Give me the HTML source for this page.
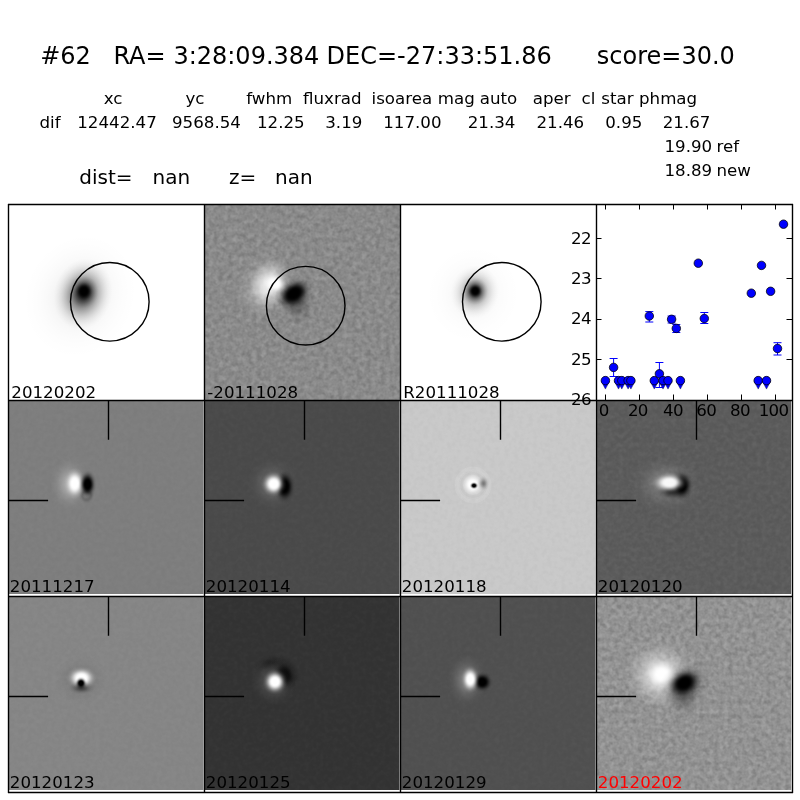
<!DOCTYPE html>
<html lang="en"><head><meta charset="utf-8"><title>#62 candidate</title>
<style>html,body{margin:0;padding:0;background:#fff;}svg{display:block;}text{font-family:"DejaVu Sans", "Liberation Sans", sans-serif;white-space:pre;fill:#000;}.t1{font-size:24px}.t2{font-size:16.67px}.t3{font-size:20px}.lab{font-size:16.67px}.tick{font-size:16.67px;letter-spacing:-0.7px}</style></head><body>
<svg width="800" height="800" viewBox="0 0 800 800">
<rect width="800" height="800" fill="#fff"/>
<defs>
<filter id="b1" x="-50%" y="-50%" width="200%" height="200%"><feGaussianBlur stdDeviation="1.2"/></filter>
<filter id="b2" x="-50%" y="-50%" width="200%" height="200%"><feGaussianBlur stdDeviation="2.2"/></filter>
<filter id="b3" x="-50%" y="-50%" width="200%" height="200%"><feGaussianBlur stdDeviation="3.5"/></filter>
<filter id="b6" x="-50%" y="-50%" width="200%" height="200%"><feGaussianBlur stdDeviation="6"/></filter>
<filter id="b10" x="-50%" y="-50%" width="200%" height="200%"><feGaussianBlur stdDeviation="10"/></filter>
<filter id="noise" x="0" y="0" width="100%" height="100%"><feTurbulence type="fractalNoise" baseFrequency="0.21" numOctaves="2" seed="3" result="n"/><feColorMatrix in="n" type="matrix" values="0 0 0 0 0  0 0 0 0 0  0 0 0 0 0  1.6 0 0 0 -0.55"/></filter>
<filter id="noisew" x="0" y="0" width="100%" height="100%"><feTurbulence type="fractalNoise" baseFrequency="0.21" numOctaves="2" seed="11" result="n"/><feColorMatrix in="n" type="matrix" values="0 0 0 0 1  0 0 0 0 1  0 0 0 0 1  1.6 0 0 0 -0.55"/></filter>
<radialGradient id="kg"><stop offset="0.000" stop-color="#000" stop-opacity="1.000"/><stop offset="0.083" stop-color="#000" stop-opacity="0.976"/><stop offset="0.167" stop-color="#000" stop-opacity="0.907"/><stop offset="0.250" stop-color="#000" stop-opacity="0.802"/><stop offset="0.333" stop-color="#000" stop-opacity="0.675"/><stop offset="0.417" stop-color="#000" stop-opacity="0.539"/><stop offset="0.500" stop-color="#000" stop-opacity="0.408"/><stop offset="0.583" stop-color="#000" stop-opacity="0.291"/><stop offset="0.667" stop-color="#000" stop-opacity="0.194"/><stop offset="0.750" stop-color="#000" stop-opacity="0.118"/><stop offset="0.833" stop-color="#000" stop-opacity="0.063"/><stop offset="0.917" stop-color="#000" stop-opacity="0.025"/><stop offset="1.000" stop-color="#000" stop-opacity="0.000"/></radialGradient>
<radialGradient id="kc"><stop offset="0.000" stop-color="#000" stop-opacity="1.000"/><stop offset="0.083" stop-color="#000" stop-opacity="1.000"/><stop offset="0.167" stop-color="#000" stop-opacity="1.000"/><stop offset="0.250" stop-color="#000" stop-opacity="1.000"/><stop offset="0.333" stop-color="#000" stop-opacity="0.951"/><stop offset="0.417" stop-color="#000" stop-opacity="0.817"/><stop offset="0.500" stop-color="#000" stop-opacity="0.634"/><stop offset="0.583" stop-color="#000" stop-opacity="0.444"/><stop offset="0.667" stop-color="#000" stop-opacity="0.278"/><stop offset="0.750" stop-color="#000" stop-opacity="0.154"/><stop offset="0.833" stop-color="#000" stop-opacity="0.072"/><stop offset="0.917" stop-color="#000" stop-opacity="0.025"/><stop offset="1.000" stop-color="#000" stop-opacity="0.000"/></radialGradient>
<radialGradient id="kh"><stop offset="0.000" stop-color="#000" stop-opacity="1.000"/><stop offset="0.083" stop-color="#000" stop-opacity="0.917"/><stop offset="0.167" stop-color="#000" stop-opacity="0.729"/><stop offset="0.250" stop-color="#000" stop-opacity="0.536"/><stop offset="0.333" stop-color="#000" stop-opacity="0.381"/><stop offset="0.417" stop-color="#000" stop-opacity="0.268"/><stop offset="0.500" stop-color="#000" stop-opacity="0.187"/><stop offset="0.583" stop-color="#000" stop-opacity="0.130"/><stop offset="0.667" stop-color="#000" stop-opacity="0.088"/><stop offset="0.750" stop-color="#000" stop-opacity="0.056"/><stop offset="0.833" stop-color="#000" stop-opacity="0.033"/><stop offset="0.917" stop-color="#000" stop-opacity="0.014"/><stop offset="1.000" stop-color="#000" stop-opacity="0.000"/></radialGradient>
<radialGradient id="wg"><stop offset="0.000" stop-color="#fff" stop-opacity="1.000"/><stop offset="0.083" stop-color="#fff" stop-opacity="0.976"/><stop offset="0.167" stop-color="#fff" stop-opacity="0.907"/><stop offset="0.250" stop-color="#fff" stop-opacity="0.802"/><stop offset="0.333" stop-color="#fff" stop-opacity="0.675"/><stop offset="0.417" stop-color="#fff" stop-opacity="0.539"/><stop offset="0.500" stop-color="#fff" stop-opacity="0.408"/><stop offset="0.583" stop-color="#fff" stop-opacity="0.291"/><stop offset="0.667" stop-color="#fff" stop-opacity="0.194"/><stop offset="0.750" stop-color="#fff" stop-opacity="0.118"/><stop offset="0.833" stop-color="#fff" stop-opacity="0.063"/><stop offset="0.917" stop-color="#fff" stop-opacity="0.025"/><stop offset="1.000" stop-color="#fff" stop-opacity="0.000"/></radialGradient>
<radialGradient id="wc"><stop offset="0.000" stop-color="#fff" stop-opacity="1.000"/><stop offset="0.083" stop-color="#fff" stop-opacity="1.000"/><stop offset="0.167" stop-color="#fff" stop-opacity="1.000"/><stop offset="0.250" stop-color="#fff" stop-opacity="1.000"/><stop offset="0.333" stop-color="#fff" stop-opacity="0.951"/><stop offset="0.417" stop-color="#fff" stop-opacity="0.817"/><stop offset="0.500" stop-color="#fff" stop-opacity="0.634"/><stop offset="0.583" stop-color="#fff" stop-opacity="0.444"/><stop offset="0.667" stop-color="#fff" stop-opacity="0.278"/><stop offset="0.750" stop-color="#fff" stop-opacity="0.154"/><stop offset="0.833" stop-color="#fff" stop-opacity="0.072"/><stop offset="0.917" stop-color="#fff" stop-opacity="0.025"/><stop offset="1.000" stop-color="#fff" stop-opacity="0.000"/></radialGradient>
<radialGradient id="wh"><stop offset="0.000" stop-color="#fff" stop-opacity="1.000"/><stop offset="0.083" stop-color="#fff" stop-opacity="0.917"/><stop offset="0.167" stop-color="#fff" stop-opacity="0.729"/><stop offset="0.250" stop-color="#fff" stop-opacity="0.536"/><stop offset="0.333" stop-color="#fff" stop-opacity="0.381"/><stop offset="0.417" stop-color="#fff" stop-opacity="0.268"/><stop offset="0.500" stop-color="#fff" stop-opacity="0.187"/><stop offset="0.583" stop-color="#fff" stop-opacity="0.130"/><stop offset="0.667" stop-color="#fff" stop-opacity="0.088"/><stop offset="0.750" stop-color="#fff" stop-opacity="0.056"/><stop offset="0.833" stop-color="#fff" stop-opacity="0.033"/><stop offset="0.917" stop-color="#fff" stop-opacity="0.014"/><stop offset="1.000" stop-color="#fff" stop-opacity="0.000"/></radialGradient>
<clipPath id="cp00"><rect x="8" y="204" width="196" height="196"/></clipPath>
<clipPath id="cp01"><rect x="204" y="204" width="196" height="196"/></clipPath>
<clipPath id="cp02"><rect x="400" y="204" width="196" height="196"/></clipPath>
<clipPath id="cp03"><rect x="596" y="204" width="196" height="196"/></clipPath>
<clipPath id="cp10"><rect x="8" y="400" width="196" height="196"/></clipPath>
<clipPath id="cp11"><rect x="204" y="400" width="196" height="196"/></clipPath>
<clipPath id="cp12"><rect x="400" y="400" width="196" height="196"/></clipPath>
<clipPath id="cp13"><rect x="596" y="400" width="196" height="196"/></clipPath>
<clipPath id="cp20"><rect x="8" y="596" width="196" height="196"/></clipPath>
<clipPath id="cp21"><rect x="204" y="596" width="196" height="196"/></clipPath>
<clipPath id="cp22"><rect x="400" y="596" width="196" height="196"/></clipPath>
<clipPath id="cp23"><rect x="596" y="596" width="196" height="196"/></clipPath>
</defs>
<text x="40.20" y="63.60" class="t1">#62</text>
<text x="113.40" y="63.60" class="t1">RA=</text>
<text x="173.40" y="63.60" class="t1">3:28:09.384</text>
<text x="326.60" y="63.60" class="t1">DEC=-27:33:51.86</text>
<text x="596.85" y="63.60" class="t1">score=30.0</text>
<text x="103.75" y="103.60" class="t2">xc</text>
<text x="185.50" y="103.60" class="t2">yc</text>
<text x="246.25" y="103.60" class="t2">fwhm</text>
<text x="303.00" y="103.60" class="t2">fluxrad</text>
<text x="371.50" y="103.60" class="t2">isoarea</text>
<text x="437.75" y="103.60" class="t2">mag</text>
<text x="479.75" y="103.60" class="t2">auto</text>
<text x="532.75" y="103.60" class="t2">aper</text>
<text x="581.50" y="103.60" class="t2">cl</text>
<text x="601.25" y="103.60" class="t2">star</text>
<text x="639.00" y="103.60" class="t2">phmag</text>
<text x="39.50" y="127.60" class="t2">dif</text>
<text x="77.25" y="127.60" class="t2">12442.47</text>
<text x="172.00" y="127.60" class="t2">9568.54</text>
<text x="257.00" y="127.60" class="t2">12.25</text>
<text x="325.25" y="127.60" class="t2">3.19</text>
<text x="383.25" y="127.60" class="t2">117.00</text>
<text x="467.75" y="127.60" class="t2">21.34</text>
<text x="536.50" y="127.60" class="t2">21.46</text>
<text x="605.25" y="127.60" class="t2">0.95</text>
<text x="662.75" y="127.60" class="t2">21.67</text>
<text x="664.50" y="152.00" class="t2">19.90</text>
<text x="716.50" y="152.00" class="t2">ref</text>
<text x="664.50" y="176.00" class="t2">18.89</text>
<text x="716.50" y="176.00" class="t2">new</text>
<text x="79.30" y="184.40" class="t3">dist=</text>
<text x="152.50" y="184.40" class="t3">nan</text>
<text x="229.00" y="184.40" class="t3">z=</text>
<text x="275.00" y="184.40" class="t3">nan</text>
<g clip-path="url(#cp00)">
<rect x="8" y="204" width="196" height="196" fill="#fff"/>
<ellipse cx="80.0" cy="296.0" rx="56.0" ry="64.0" fill="url(#kh)" opacity="0.17" transform="rotate(25 80.0 296.0)"/>
<ellipse cx="83.0" cy="294.0" rx="29.0" ry="36.0" fill="url(#kg)" opacity="0.62" transform="rotate(15 83.0 294.0)"/>
<ellipse cx="84.0" cy="292.0" rx="14.5" ry="16.5" fill="url(#kg)" opacity="1" transform="rotate(10 84.0 292.0)"/>
<ellipse cx="84.0" cy="291.0" rx="9.0" ry="9.5" fill="url(#kc)" opacity="1"/>
<circle cx="109.8" cy="301.8" r="39.3" fill="none" stroke="#000" stroke-width="1.39"/>
</g>
<text x="11.30" y="397.80" class="lab" fill="#000" style="fill:#000">20120202</text>
<g clip-path="url(#cp01)">
<rect x="204" y="204" width="196" height="196" fill="#8b8b8b"/>
<rect x="204" y="204" width="196" height="196" filter="url(#noise)" opacity="0.17"/>
<rect x="204" y="204" width="196" height="196" filter="url(#noisew)" opacity="0.17"/>
<ellipse cx="266.0" cy="286.0" rx="28.0" ry="36.0" fill="url(#wg)" opacity="0.6" transform="rotate(20 266.0 286.0)"/>
<ellipse cx="270.0" cy="284.0" rx="21.0" ry="26.0" fill="url(#wg)" opacity="0.68" transform="rotate(20 270.0 284.0)"/>
<ellipse cx="275.0" cy="283.5" rx="12.5" ry="10.5" fill="url(#wc)" opacity="1" transform="rotate(20 275.0 283.5)"/>
<ellipse cx="297.0" cy="303.0" rx="18.0" ry="24.0" fill="url(#kg)" opacity="0.32" transform="rotate(-20 297.0 303.0)"/>
<ellipse cx="294.0" cy="294.0" rx="21.0" ry="16.0" fill="url(#kg)" opacity="1" transform="rotate(-35 294.0 294.0)"/>
<ellipse cx="294.0" cy="293.5" rx="17.0" ry="11.5" fill="url(#kc)" opacity="1" transform="rotate(-35 294.0 293.5)"/>
<circle cx="305.7" cy="305.7" r="39.3" fill="none" stroke="#000" stroke-width="1.39"/>
</g>
<text x="207.30" y="397.80" class="lab" fill="#000" style="fill:#000">-20111028</text>
<g clip-path="url(#cp02)">
<rect x="400" y="204" width="196" height="196" fill="#fff"/>
<ellipse cx="473.0" cy="294.0" rx="48.0" ry="50.0" fill="url(#kh)" opacity="0.1" transform="rotate(20 473.0 294.0)"/>
<ellipse cx="475.0" cy="292.0" rx="24.0" ry="27.0" fill="url(#kg)" opacity="0.42" transform="rotate(15 475.0 292.0)"/>
<ellipse cx="475.2" cy="291.2" rx="13.0" ry="14.0" fill="url(#kg)" opacity="0.95"/>
<ellipse cx="475.2" cy="291.0" rx="7.5" ry="7.5" fill="url(#kc)" opacity="1"/>
<circle cx="501.8" cy="301.8" r="39.3" fill="none" stroke="#000" stroke-width="1.39"/>
</g>
<text x="403.30" y="397.80" class="lab" fill="#000" style="fill:#000">R20111028</text>
<g clip-path="url(#cp10)">
<rect x="8" y="400" width="196" height="196" fill="#7e7e7e"/>
<rect x="8" y="400" width="196" height="196" filter="url(#noise)" opacity="0.025"/>
<rect x="8" y="400" width="196" height="196" filter="url(#noisew)" opacity="0.025"/>
<ellipse cx="70.0" cy="484.0" rx="20.0" ry="26.7" fill="url(#wg)" opacity="0.4"/>
<circle cx="86.6" cy="495.5" r="4.5" fill="none" stroke="#000" stroke-width="2.5" opacity="0.22" filter="url(#b1)"/>
<ellipse cx="74.8" cy="483.5" rx="10.7" ry="16.0" fill="url(#wc)" opacity="1"/>
<ellipse cx="87.6" cy="484.3" rx="9.3" ry="15.1" fill="url(#kc)" opacity="1"/>
<rect x="8" y="594" width="196" height="2" fill="#fff"/>
<rect x="203" y="400" width="1" height="196" fill="#fff" opacity="0.5"/>
</g>
<path d="M108.5 401 V439.8 M9 500.5 H48.1" stroke="#000" stroke-width="1.39" fill="none"/>
<text x="9.80" y="592.00" class="lab" fill="#000" style="fill:#000">20111217</text>
<g clip-path="url(#cp11)">
<rect x="204" y="400" width="196" height="196" fill="#4a4a4a"/>
<rect x="204" y="400" width="196" height="196" filter="url(#noise)" opacity="0.025"/>
<rect x="204" y="400" width="196" height="196" filter="url(#noisew)" opacity="0.025"/>
<ellipse cx="273.0" cy="484.0" rx="26.7" ry="26.7" fill="url(#wg)" opacity="0.2"/>
<ellipse cx="284.5" cy="486.5" rx="11.6" ry="17.8" fill="url(#kc)" opacity="1"/>
<ellipse cx="273.8" cy="484.0" rx="13.0" ry="13.0" fill="url(#wc)" opacity="1"/>
<rect x="204" y="594" width="196" height="2" fill="#fff"/>
<rect x="399" y="400" width="1" height="196" fill="#fff" opacity="0.5"/>
</g>
<path d="M304.5 401 V439.8 M205 500.5 H244.1" stroke="#000" stroke-width="1.39" fill="none"/>
<text x="205.80" y="592.00" class="lab" fill="#000" style="fill:#000">20120114</text>
<g clip-path="url(#cp12)">
<rect x="400" y="400" width="196" height="196" fill="#c9c9c9"/>
<rect x="400" y="400" width="196" height="196" filter="url(#noise)" opacity="0.025"/>
<rect x="400" y="400" width="196" height="196" filter="url(#noisew)" opacity="0.025"/>
<circle cx="473.0" cy="485.0" r="16.5" fill="none" stroke="#fff" stroke-width="4" opacity="0.10"/>
<circle cx="473.0" cy="485.0" r="11.5" fill="none" stroke="#000" stroke-width="3" opacity="0.03"/>
<ellipse cx="472.8" cy="484.5" rx="18.9" ry="18.9" fill="url(#wg)" opacity="0.5"/>
<ellipse cx="472.5" cy="484.5" rx="10.7" ry="11.2" fill="url(#wc)" opacity="1"/>
<ellipse cx="483.3" cy="483.5" rx="6.7" ry="7.8" fill="url(#kg)" opacity="0.4"/>
<ellipse cx="474.0" cy="485.6" rx="4.6" ry="3.9" fill="url(#kc)" opacity="1"/>
<rect x="400" y="594" width="196" height="2" fill="#fff"/>
<rect x="595" y="400" width="1" height="196" fill="#fff" opacity="0.5"/>
</g>
<path d="M500.5 401 V439.8 M401 500.5 H440.1" stroke="#000" stroke-width="1.39" fill="none"/>
<text x="401.80" y="592.00" class="lab" fill="#000" style="fill:#000">20120118</text>
<g clip-path="url(#cp13)">
<rect x="596" y="400" width="196" height="196" fill="#5b5b5b"/>
<rect x="596" y="400" width="196" height="196" filter="url(#noise)" opacity="0.06"/>
<rect x="596" y="400" width="196" height="196" filter="url(#noisew)" opacity="0.06"/>
<ellipse cx="666.0" cy="484.0" rx="35.6" ry="28.9" fill="url(#wg)" opacity="0.25"/>
<ellipse cx="681.7" cy="485.3" rx="12.5" ry="16.0" fill="url(#kc)" opacity="1"/>
<ellipse cx="672.0" cy="492.0" rx="17.8" ry="8.9" fill="url(#kg)" opacity="0.6"/>
<ellipse cx="669.5" cy="482.6" rx="18.7" ry="10.7" fill="url(#wc)" opacity="0.95"/>
<rect x="596" y="594" width="196" height="2" fill="#fff"/>
<rect x="791" y="400" width="1" height="196" fill="#fff" opacity="0.85"/>
</g>
<path d="M696.5 401 V439.8 M597 500.5 H636.1" stroke="#000" stroke-width="1.39" fill="none"/>
<text x="597.80" y="592.00" class="lab" fill="#000" style="fill:#000">20120120</text>
<g clip-path="url(#cp20)">
<rect x="8" y="596" width="196" height="196" fill="#868686"/>
<rect x="8" y="596" width="196" height="196" filter="url(#noise)" opacity="0.025"/>
<rect x="8" y="596" width="196" height="196" filter="url(#noisew)" opacity="0.025"/>
<ellipse cx="81.0" cy="680.0" rx="28.9" ry="26.7" fill="url(#kg)" opacity="0.12"/>
<ellipse cx="81.5" cy="678.0" rx="15.7" ry="12.1" fill="url(#wc)" opacity="1"/>
<ellipse cx="81.5" cy="688.0" rx="13.3" ry="6.7" fill="url(#kg)" opacity="0.5"/>
<ellipse cx="81.0" cy="683.2" rx="6.4" ry="6.8" fill="url(#kc)" opacity="1"/>
<rect x="8" y="790" width="196" height="2" fill="#fff"/>
<rect x="203" y="596" width="1" height="196" fill="#fff" opacity="0.5"/>
</g>
<path d="M108.5 597 V635.8 M9 696.5 H48.1" stroke="#000" stroke-width="1.39" fill="none"/>
<text x="9.80" y="788.00" class="lab" fill="#000" style="fill:#000">20120123</text>
<g clip-path="url(#cp21)">
<rect x="204" y="596" width="196" height="196" fill="#333333"/>
<rect x="204" y="596" width="196" height="196" filter="url(#noise)" opacity="0.025"/>
<rect x="204" y="596" width="196" height="196" filter="url(#noisew)" opacity="0.025"/>
<ellipse cx="270.0" cy="663.0" rx="17.8" ry="8.9" fill="url(#kg)" opacity="0.35" transform="rotate(-15 270.0 663.0)"/>
<ellipse cx="285.0" cy="675.0" rx="15.6" ry="20.0" fill="url(#kg)" opacity="0.9" transform="rotate(-20 285.0 675.0)"/>
<ellipse cx="284.5" cy="675.5" rx="8.9" ry="12.5" fill="url(#kc)" opacity="0.85" transform="rotate(-20 284.5 675.5)"/>
<ellipse cx="274.0" cy="682.0" rx="24.4" ry="24.4" fill="url(#wg)" opacity="0.2"/>
<ellipse cx="275.0" cy="681.7" rx="12.5" ry="13.0" fill="url(#wc)" opacity="1"/>
<rect x="204" y="790" width="196" height="2" fill="#fff"/>
<rect x="399" y="596" width="1" height="196" fill="#fff" opacity="0.5"/>
</g>
<path d="M304.5 597 V635.8 M205 696.5 H244.1" stroke="#000" stroke-width="1.39" fill="none"/>
<text x="205.80" y="788.00" class="lab" fill="#000" style="fill:#000">20120125</text>
<g clip-path="url(#cp22)">
<rect x="400" y="596" width="196" height="196" fill="#505050"/>
<rect x="400" y="596" width="196" height="196" filter="url(#noise)" opacity="0.025"/>
<rect x="400" y="596" width="196" height="196" filter="url(#noisew)" opacity="0.025"/>
<ellipse cx="467.0" cy="680.0" rx="20.0" ry="26.7" fill="url(#wg)" opacity="0.3"/>
<ellipse cx="482.3" cy="682.0" rx="11.0" ry="11.0" fill="url(#kc)" opacity="1"/>
<ellipse cx="470.3" cy="679.3" rx="9.6" ry="14.2" fill="url(#wc)" opacity="1"/>
<rect x="400" y="790" width="196" height="2" fill="#fff"/>
<rect x="595" y="596" width="1" height="196" fill="#fff" opacity="0.5"/>
</g>
<path d="M500.5 597 V635.8 M401 696.5 H440.1" stroke="#000" stroke-width="1.39" fill="none"/>
<text x="401.80" y="788.00" class="lab" fill="#000" style="fill:#000">20120129</text>
<g clip-path="url(#cp23)">
<rect x="596" y="596" width="196" height="196" fill="#949494"/>
<rect x="596" y="596" width="196" height="196" filter="url(#noise)" opacity="0.19"/>
<rect x="596" y="596" width="196" height="196" filter="url(#noisew)" opacity="0.19"/>
<ellipse cx="660.0" cy="675.0" rx="37.8" ry="37.8" fill="url(#wg)" opacity="0.8"/>
<ellipse cx="662.0" cy="674.4" rx="16.9" ry="15.1" fill="url(#wc)" opacity="1"/>
<ellipse cx="683.0" cy="696.0" rx="20.0" ry="24.4" fill="url(#kg)" opacity="0.3" transform="rotate(-15 683.0 696.0)"/>
<ellipse cx="684.5" cy="684.0" rx="26.7" ry="21.1" fill="url(#kg)" opacity="0.6" transform="rotate(-30 684.5 684.0)"/>
<ellipse cx="684.3" cy="683.0" rx="18.7" ry="14.2" fill="url(#kc)" opacity="1" transform="rotate(-30 684.3 683.0)"/>
<rect x="596" y="790" width="196" height="2" fill="#fff"/>
<rect x="791" y="596" width="1" height="196" fill="#fff" opacity="0.85"/>
</g>
<path d="M696.5 597 V635.8 M597 696.5 H636.1" stroke="#000" stroke-width="1.39" fill="none"/>
<text x="597.80" y="788.00" class="lab" fill="#f00" style="fill:#f00">20120202</text>
<rect x="596" y="204" width="196" height="196" fill="#fff"/>
<g clip-path="url(#cp03)">
<path d="M613.6 358.5 V376.5 M609.6 358.5 h8 M609.6 376.5 h8" stroke="#00f" stroke-width="1" fill="none"/>
<path d="M649.3 311.6 V322.0 M645.3 311.6 h8 M645.3 322.0 h8" stroke="#00f" stroke-width="1" fill="none"/>
<path d="M659.4 362.5 V387.5 M655.4 362.5 h8 M655.4 387.5 h8" stroke="#00f" stroke-width="1" fill="none"/>
<path d="M671.6 316.0 V323.0 M667.6 316.0 h8 M667.6 323.0 h8" stroke="#00f" stroke-width="1" fill="none"/>
<path d="M676.3 324.5 V332.5 M672.3 324.5 h8 M672.3 332.5 h8" stroke="#00f" stroke-width="1" fill="none"/>
<path d="M704.3 312.5 V323.5 M700.3 312.5 h8 M700.3 323.5 h8" stroke="#00f" stroke-width="1" fill="none"/>
<path d="M777.5 342.7 V355.0 M773.5 342.7 h8 M773.5 355.0 h8" stroke="#00f" stroke-width="1" fill="none"/>
<path d="M601.4 381.6 L609.4 381.6 L605.4 389.1 Z" fill="#00f" stroke="#003" stroke-width="0.4"/>
<path d="M614.5 381.6 L622.5 381.6 L618.5 389.1 Z" fill="#00f" stroke="#003" stroke-width="0.4"/>
<path d="M617.8 381.6 L625.8 381.6 L621.8 389.1 Z" fill="#00f" stroke="#003" stroke-width="0.4"/>
<path d="M624.1 381.6 L632.1 381.6 L628.1 389.1 Z" fill="#00f" stroke="#003" stroke-width="0.4"/>
<path d="M626.9 381.6 L634.9 381.6 L630.9 389.1 Z" fill="#00f" stroke="#003" stroke-width="0.4"/>
<path d="M650.3 381.6 L658.3 381.6 L654.3 389.1 Z" fill="#00f" stroke="#003" stroke-width="0.4"/>
<path d="M659.0 381.6 L667.0 381.6 L663.0 389.1 Z" fill="#00f" stroke="#003" stroke-width="0.4"/>
<path d="M664.0 381.6 L672.0 381.6 L668.0 389.1 Z" fill="#00f" stroke="#003" stroke-width="0.4"/>
<path d="M676.4 381.6 L684.4 381.6 L680.4 389.1 Z" fill="#00f" stroke="#003" stroke-width="0.4"/>
<path d="M754.2 381.6 L762.2 381.6 L758.2 389.1 Z" fill="#00f" stroke="#003" stroke-width="0.4"/>
<path d="M762.5 381.6 L770.5 381.6 L766.5 389.1 Z" fill="#00f" stroke="#003" stroke-width="0.4"/>
<circle cx="605.4" cy="380.6" r="4.25" fill="#00f" stroke="#000" stroke-width="0.75"/>
<circle cx="613.6" cy="367.4" r="4.25" fill="#00f" stroke="#000" stroke-width="0.75"/>
<circle cx="618.5" cy="380.6" r="4.25" fill="#00f" stroke="#000" stroke-width="0.75"/>
<circle cx="621.8" cy="380.6" r="4.25" fill="#00f" stroke="#000" stroke-width="0.75"/>
<circle cx="628.1" cy="380.6" r="4.25" fill="#00f" stroke="#000" stroke-width="0.75"/>
<circle cx="630.9" cy="380.6" r="4.25" fill="#00f" stroke="#000" stroke-width="0.75"/>
<circle cx="649.3" cy="316.0" r="4.25" fill="#00f" stroke="#000" stroke-width="0.75"/>
<circle cx="654.3" cy="380.6" r="4.25" fill="#00f" stroke="#000" stroke-width="0.75"/>
<circle cx="659.4" cy="373.8" r="4.25" fill="#00f" stroke="#000" stroke-width="0.75"/>
<circle cx="663.0" cy="380.6" r="4.25" fill="#00f" stroke="#000" stroke-width="0.75"/>
<circle cx="668.0" cy="380.6" r="4.25" fill="#00f" stroke="#000" stroke-width="0.75"/>
<circle cx="671.6" cy="319.3" r="4.25" fill="#00f" stroke="#000" stroke-width="0.75"/>
<circle cx="676.3" cy="328.4" r="4.25" fill="#00f" stroke="#000" stroke-width="0.75"/>
<circle cx="680.4" cy="380.6" r="4.25" fill="#00f" stroke="#000" stroke-width="0.75"/>
<circle cx="698.3" cy="263.2" r="4.25" fill="#00f" stroke="#000" stroke-width="0.75"/>
<circle cx="704.3" cy="318.5" r="4.25" fill="#00f" stroke="#000" stroke-width="0.75"/>
<circle cx="751.3" cy="293.2" r="4.25" fill="#00f" stroke="#000" stroke-width="0.75"/>
<circle cx="758.2" cy="380.6" r="4.25" fill="#00f" stroke="#000" stroke-width="0.75"/>
<circle cx="761.5" cy="265.4" r="4.25" fill="#00f" stroke="#000" stroke-width="0.75"/>
<circle cx="766.5" cy="380.6" r="4.25" fill="#00f" stroke="#000" stroke-width="0.75"/>
<circle cx="770.6" cy="291.3" r="4.25" fill="#00f" stroke="#000" stroke-width="0.75"/>
<circle cx="777.5" cy="348.5" r="4.25" fill="#00f" stroke="#000" stroke-width="0.75"/>
<circle cx="783.5" cy="224.2" r="4.25" fill="#00f" stroke="#000" stroke-width="0.75"/>
</g>
<path d="M605.5 400 v-5.5 M605.5 204 v5.5 M639.5 400 v-5.5 M639.5 204 v5.5 M673.5 400 v-5.5 M673.5 204 v5.5 M707.5 400 v-5.5 M707.5 204 v5.5 M741.5 400 v-5.5 M741.5 204 v5.5 M775.5 400 v-5.5 M775.5 204 v5.5 M596 238.5 h5.5 M792 238.5 h-5.5 M596 278.5 h5.5 M792 278.5 h-5.5 M596 319.5 h5.5 M792 319.5 h-5.5 M596 359.5 h5.5 M792 359.5 h-5.5" stroke="#000" stroke-width="1" fill="none"/>
<path d="M8.5 204 V793 M204.5 204 V793 M400.5 204 V793 M596.5 204 V793 M792.5 204 V793 M8 204.5 H793 M8 400.5 H793 M8 596.5 H793 M8 792.5 H793" stroke="#000" stroke-width="1.39" fill="none"/>
<text x="598.7" y="416.3" class="tick">0</text>
<text x="627.9" y="416.3" class="tick">20</text>
<text x="663.1" y="416.3" class="tick">40</text>
<text x="696.3" y="416.3" class="tick">60</text>
<text x="730.0" y="416.3" class="tick">80</text>
<text x="758.7" y="416.3" class="tick">100</text>
<text x="590.8" y="243.5" class="tick" text-anchor="end">22</text>
<text x="590.8" y="283.8" class="tick" text-anchor="end">23</text>
<text x="590.8" y="324.2" class="tick" text-anchor="end">24</text>
<text x="590.8" y="364.5" class="tick" text-anchor="end">25</text>
<text x="590.8" y="404.9" class="tick" text-anchor="end">26</text>
</svg></body></html>
